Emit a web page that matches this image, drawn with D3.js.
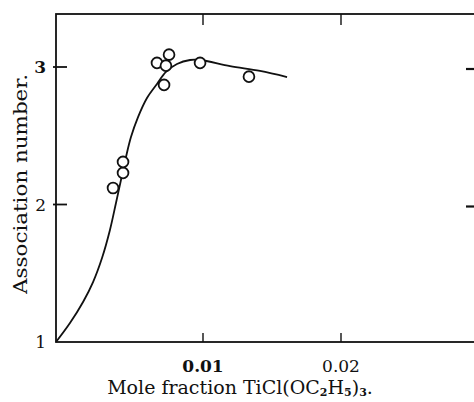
<!DOCTYPE html>
<html>
<head>
<meta charset="utf-8">
<script src="https://cdn.jsdelivr.net/npm/d3@7"></script>
<style>
  body { margin: 0; background: #fff; }
  text { font-family: "DejaVu Serif", serif; fill: #111; }
</style>
</head>
<body>
<div id="plot"></div>
<script>
// measured points (mole fraction, association number)
var pointX = [0.00388, 0.00456, 0.00456, 0.00687, 0.00748, 0.00769, 0.00735, 0.0098, 0.01333];
var pointY = [2.12, 2.23, 2.31, 3.03, 3.01, 3.09, 2.87, 3.03, 2.93];

// the drawn curve
var curveX = [0, 0.00095, 0.00184, 0.00252, 0.00313, 0.00367, 0.00408, 0.00442, 0.00476, 0.0051,
              0.00558, 0.00619, 0.00687, 0.00748, 0.00823, 0.00912, 0.0098, 0.01196, 0.01413, 0.01609];
var curveY = [1, 1.138, 1.291, 1.436, 1.611, 1.815, 2.011, 2.178, 2.345, 2.491,
              2.636, 2.775, 2.877, 2.964, 3.022, 3.051, 3.051, 3.007, 2.971, 2.927];

var xTicks = [0.01, 0.02];
var xTickLabels = ["0.01", "0.02"];
var yTicks = [1, 2, 3];

var svg_w = 474, svg_h = 402;

var svg = d3.select("#plot")
      .append("svg")
      .attr("width", svg_w)
      .attr("height", svg_h);

// the scan is a little uneven, so the x scale is piecewise
var xScale = d3.scaleLinear()
      .domain([0, 0.01, 0.03])
      .range([56, 203, 479]);

var yScale = d3.scaleLinear()
      .domain([1, 3])
      .range([342, 67]);

var top_y = 14, right_x = xScale(0.03);

// frame
svg.append("rect")
  .attr("x", 56)
  .attr("y", top_y)
  .attr("width", right_x - 56)
  .attr("height", 342 - top_y)
  .style("fill", "none")
  .style("stroke", "#111")
  .style("stroke-width", 1.8);

// ticks on all four sides
xTicks.forEach(function(v) {
  svg.append("line")
    .attr("x1", xScale(v)).attr("x2", xScale(v))
    .attr("y1", top_y).attr("y2", top_y + 11)
    .style("stroke", "#111").style("stroke-width", 1.4);
  svg.append("line")
    .attr("x1", xScale(v)).attr("x2", xScale(v))
    .attr("y1", 342).attr("y2", 333)
    .style("stroke", "#111").style("stroke-width", 1.4);
});

yTicks.slice(1).forEach(function(v) {
  svg.append("line")
    .attr("x1", 53).attr("x2", 67)
    .attr("y1", yScale(v)).attr("y2", yScale(v))
    .style("stroke", "#111").style("stroke-width", 1.8);
  svg.append("line")
    .attr("x1", 466).attr("x2", right_x)
    .attr("y1", yScale(v) + 2).attr("y2", yScale(v) + 2)
    .style("stroke", "#111").style("stroke-width", 2.2);
});

// tick labels
svg.selectAll(".xlab")
  .data(xTicks)
  .enter()
  .append("text")
  .attr("class", "xlab")
  .attr("x", function(d) { return xScale(d); })
  .attr("y", 372)
  .attr("text-anchor", "middle")
  .style("font-size", "17px")
  .style("font-weight", function(d, i) { return i == 0 ? "bold" : "normal"; })
  .text(function(d, i) { return xTickLabels[i]; });

svg.selectAll(".ylab")
  .data(yTicks)
  .enter()
  .append("text")
  .attr("class", "ylab")
  .attr("x", 46)
  .attr("y", function(d) { return yScale(d) + 6; })
  .attr("text-anchor", "end")
  .style("font-size", "17px")
  .style("font-weight", function(d) { return d == 3 ? "bold" : "normal"; })
  .text(function(d) { return d; });

// curve
var line = d3.line()
  .x(function(d) { return xScale(d[0]); })
  .y(function(d) { return yScale(d[1]); })
  .curve(d3.curveCatmullRom);

svg.append("path")
  .datum(d3.zip(curveX, curveY))
  .attr("d", line)
  .style("fill", "none")
  .style("stroke", "#111")
  .style("stroke-width", 1.8);

// points
svg.selectAll("circle")
  .data(d3.zip(pointX, pointY))
  .enter()
  .append("circle")
  .attr("cx", function(d) { return xScale(d[0]); })
  .attr("cy", function(d) { return yScale(d[1]); })
  .attr("r", 5.4)
  .style("fill", "#fff")
  .style("stroke", "#111")
  .style("stroke-width", 1.8);

// axis titles
svg.append("text")
  .attr("text-anchor", "middle")
  .attr("transform", "translate(27,184) rotate(-90)")
  .attr("textLength", 220)
  .attr("lengthAdjust", "spacingAndGlyphs")
  .style("font-size", "19px")
  .text("Association number.");

var xt = svg.append("text")
  .attr("text-anchor", "middle")
  .attr("x", 240)
  .attr("y", 394)
  .style("font-size", "19px");
xt.append("tspan").text("Mole fraction TiCl(OC");
xt.append("tspan").attr("dy", 2).style("font-size", "11px").style("font-weight", "bold").text("2");
xt.append("tspan").attr("dy", -2).text("H");
xt.append("tspan").attr("dy", 2).style("font-size", "11px").style("font-weight", "bold").text("5");
xt.append("tspan").attr("dy", -2).text(")");
xt.append("tspan").attr("dy", 2).style("font-size", "11px").style("font-weight", "bold").text("3");
xt.append("tspan").attr("dy", -2).text(".");
</script>
</body>
</html>
